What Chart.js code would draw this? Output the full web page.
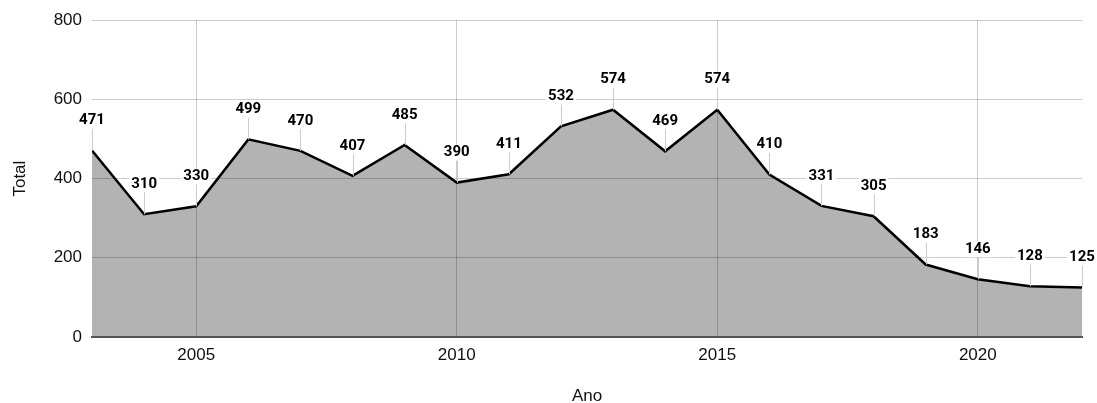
<!DOCTYPE html>
<html>
<head>
<meta charset="utf-8">
<script src="https://cdn.jsdelivr.net/npm/chart.js@4/dist/chart.umd.min.js"></script>
<style>
    body { margin: 0; background: #fff; }
    canvas { display: block; }
</style>
</head>
<body>
<canvas id="chart" width="1097" height="403"></canvas>
<script>
const years = [2003, 2004, 2005, 2006, 2007, 2008, 2009, 2010, 2011, 2012,
               2013, 2014, 2015, 2016, 2017, 2018, 2019, 2020, 2021, 2022];
const totals = [471, 310, 330, 499, 470, 407, 485, 390, 411, 532,
                574, 469, 574, 410, 331, 305, 183, 146, 128, 125];
const yearTicks = [2005, 2010, 2015, 2020];

const tickFont = { family: 'Liberation Sans', size: 17 };

// value labels above each point, with a white box and a thin leader line
const pointLabels = {
    id: 'pointLabels',
    afterDraw(chart) {
        const ctx = chart.ctx;
        const meta = chart.getDatasetMeta(0);
        ctx.save();
        ctx.font = 'bold 15px Roboto';
        ctx.textAlign = 'center';
        ctx.textBaseline = 'middle';
        meta.data.forEach((pt, i) => {
            const text = String(chart.data.datasets[0].data[i].y);
            const ly = pt.y - 30;
            ctx.strokeStyle = '#cccccc';
            ctx.lineWidth = 1;
            ctx.beginPath();
            ctx.moveTo(Math.round(pt.x) + 0.5, ly + 8);
            ctx.lineTo(Math.round(pt.x) + 0.5, pt.y);
            ctx.stroke();
            const w = ctx.measureText(text).width + 4;
            ctx.fillStyle = '#ffffff';
            ctx.fillRect(pt.x - w / 2, ly - 8, w, 16);
            ctx.fillStyle = '#000000';
            ctx.fillText(text, pt.x, ly);
        });
        ctx.restore();
    }
};

new Chart(document.getElementById('chart').getContext('2d'), {
    type: 'line',
    data: {
        datasets: [{
            label: 'Total',
            data: years.map((y, i) => ({ x: y, y: totals[i] })),
            borderColor: '#000000',
            borderWidth: 2.5,
            backgroundColor: '#b3b3b3',
            fill: 'origin',
            pointRadius: 0,
            tension: 0
        }]
    },
    options: {
        responsive: false,
        animation: false,
        layout: { padding: { top: 19, right: 15, left: 0, bottom: 0 } },
        plugins: {
            legend: { display: false },
            tooltip: { enabled: false }
        },
        scales: {
            x: {
                type: 'linear',
                min: 2003,
                max: 2022,
                afterBuildTicks: axis => { axis.ticks = yearTicks.map(v => ({ value: v })); },
                afterFit: axis => { axis.height = 66; },
                ticks: {
                    font: tickFont,
                    color: '#111111',
                    padding: 8,
                    callback: v => String(v)
                },
                grid: { color: 'rgba(0,0,0,0.2)', drawTicks: false, z: 1 },
                border: { color: '#555555', width: 2, z: 2 },
                title: {
                    display: true,
                    text: 'Ano',
                    font: tickFont,
                    color: '#111111',
                    padding: { top: 4, bottom: -4 }
                }
            },
            y: {
                min: 0,
                max: 800,
                afterFit: axis => { axis.width = 92; },
                ticks: {
                    stepSize: 200,
                    font: tickFont,
                    color: '#111111',
                    padding: 10
                },
                grid: { color: 'rgba(0,0,0,0.2)', drawTicks: false, z: 1 },
                border: { display: false },
                title: {
                    display: true,
                    text: 'Total',
                    font: tickFont,
                    color: '#111111',
                    padding: { top: 10, bottom: 4 }
                }
            }
        }
    },
    plugins: [pointLabels]
});
</script>
</body>
</html>
